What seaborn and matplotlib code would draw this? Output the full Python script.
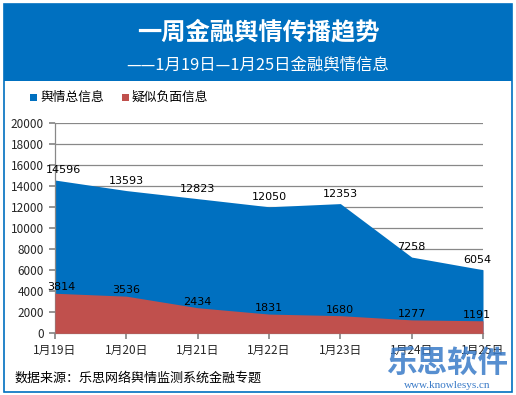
import matplotlib
matplotlib.use("Agg")
import matplotlib.pyplot as plt
import seaborn as sns
import pandas as pd
from matplotlib.patches import Rectangle

dates = ["1月19日", "1月20日", "1月21日", "1月22日", "1月23日", "1月24日", "1月25日"]
total_info = [14596, 13593, 12823, 12050, 12353, 7258, 6054]
negative_info = [3814, 3536, 2434, 1831, 1680, 1277, 1191]
y_ticks = [0, 2000, 4000, 6000, 8000, 10000, 12000, 14000, 16000, 18000, 20000]
series_names = ["舆情总信息", "疑似负面信息"]

sns.set_theme(style="white")
plt.rcParams['font.family'] = ['Noto Sans CJK SC', 'DejaVu Sans']

BLUE = "#0070C0"
RED = "#C0504D"
W, H = 516, 395
fig = plt.figure(figsize=(W / 100, H / 100), dpi=100)
fig.patch.set_facecolor("white")

def fx(px):
    return px / W

def fy(py):
    return 1 - py / H

# outer border and header
fig.add_artist(Rectangle((fx(4), fy(391.5)), fx(508), (387.5) / H, transform=fig.transFigure,
                         facecolor="none", edgecolor=BLUE, lw=1.2))
fig.add_artist(Rectangle((fx(4), fy(81)), fx(508), 77 / H, transform=fig.transFigure,
                         facecolor=BLUE, edgecolor="none"))
fig.text(fx(258), fy(32), "一周金融舆情传播趋势", color="white", fontsize=17.5,
         fontweight="bold", ha="center", va="center")
fig.text(fx(258), fy(65), "——1月19日—1月25日金融舆情信息", color="white", fontsize=11.8,
         ha="center", va="center")

# legend
fig.add_artist(Rectangle((fx(30), fy(101)), fx(7), 7 / H, transform=fig.transFigure,
                         facecolor=BLUE, edgecolor="none"))
fig.text(fx(40), fy(97), series_names[0], fontsize=9.2, ha="left", va="center", color="black")
fig.add_artist(Rectangle((fx(122), fy(101)), fx(7), 7 / H, transform=fig.transFigure,
                         facecolor=RED, edgecolor="none"))
fig.text(fx(132), fy(97), series_names[1], fontsize=9.2, ha="left", va="center", color="black")

# plot area
left, right, top, bottom = 55, 483, 123.3, 333.3
ax = fig.add_axes([fx(left), fy(bottom), fx(right - left), (bottom - top) / H])

df = pd.DataFrame({"date": dates, "total": total_info, "neg": negative_info})
df["x"] = range(len(dates))

sns.lineplot(data=df, x="x", y="total", ax=ax, color=BLUE, linewidth=0)
sns.lineplot(data=df, x="x", y="neg", ax=ax, color=RED, linewidth=0)
ax.fill_between(df["x"], 0, df["total"], color=BLUE, lw=0, zorder=2)
ax.fill_between(df["x"], 0, df["neg"], color=RED, lw=0, zorder=3)

ax.set_xlim(0, len(dates) - 1)
ax.set_ylim(0, 20000)
ax.set_yticks(y_ticks)
ax.set_yticklabels([str(v) for v in y_ticks], fontsize=8.5)
ax.set_xticks(df["x"])
ax.set_xticklabels(dates, fontsize=8.5)
ax.set_xlabel("")
ax.set_ylabel("")
ax.grid(axis="y", color="#888888", lw=0.9, zorder=1)
ax.set_axisbelow(True)
for s in ["top", "right"]:
    ax.spines[s].set_visible(False)
for s in ["left", "bottom"]:
    ax.spines[s].set_color("#888888")
    ax.spines[s].set_linewidth(0.9)
ax.tick_params(axis="y", length=4, color="#888888", pad=4, left=True)
ax.tick_params(axis="x", length=4, color="#888888", pad=4, bottom=True)
ax.patch.set_alpha(0)

n = len(dates)
for i, v in enumerate(total_info):
    dx = 8 if i == 0 else (-6 if i == n - 1 else 0)
    ax.annotate(str(v), (i, v), textcoords="offset pixels", xytext=(dx, 5),
                ha="center", va="bottom", fontsize=8, color="black", zorder=5,
                family=["DejaVu Sans"])
for i, v in enumerate(negative_info):
    dx = 6 if i == 0 else (-6 if i == n - 1 else 0)
    ax.annotate(str(v), (i, v), textcoords="offset pixels", xytext=(dx, 1),
                ha="center", va="bottom", fontsize=8, color="black", zorder=5,
                family=["DejaVu Sans"])

# footer
fig.text(fx(15), fy(378), "数据来源：乐思网络舆情监测系统金融专题", fontsize=9.4,
         ha="left", va="center", color="black")
fig.text(fx(447), fy(363), "乐思软件", fontsize=22, fontweight="bold", color="#3A7BC8",
         alpha=0.85, ha="center", va="center", zorder=0)
fig.text(fx(447), fy(385), "www.knowlesys.cn", fontsize=8, color="#3A7BC8",
         ha="center", va="center", family=["Liberation Serif"])

fig.savefig("out.png", dpi=100)
